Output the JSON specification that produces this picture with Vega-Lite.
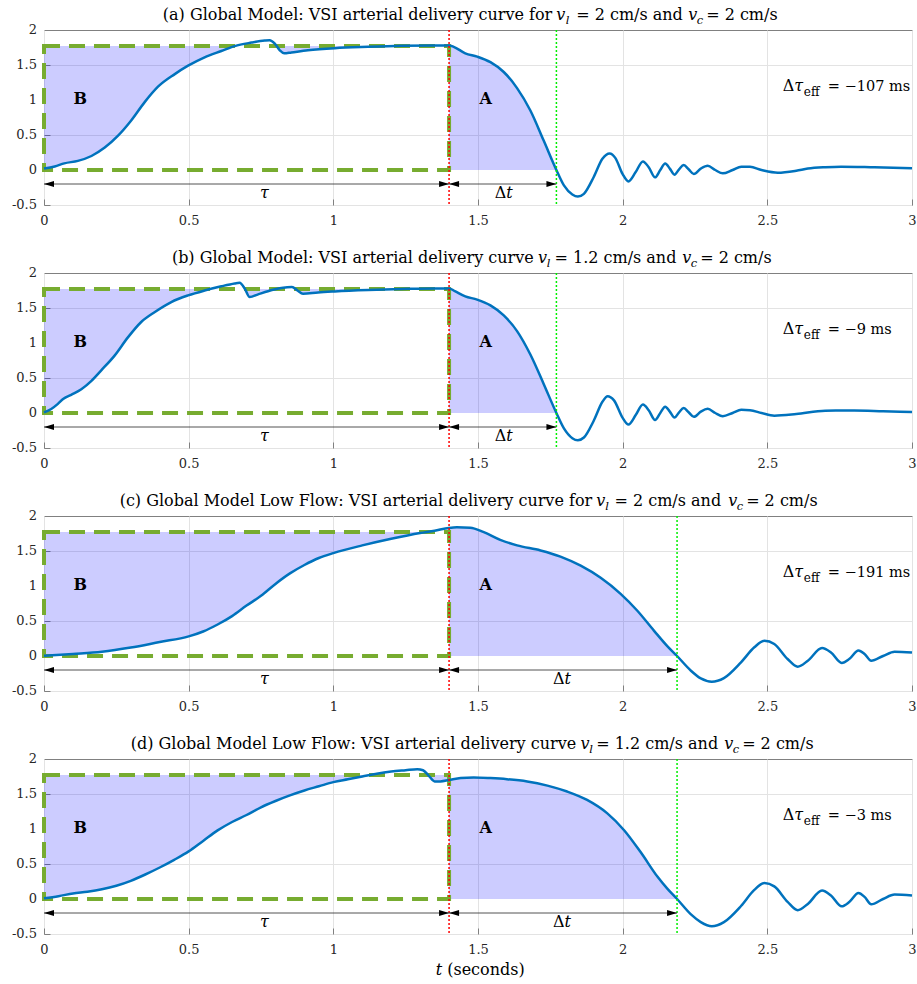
{
"$schema": "https://vega.github.io/schema/vega-lite/v6.json",
"background": "white",
"padding": {"left": 11, "top": 6, "right": 0, "bottom": 0},
"config": {
  "view": {"stroke": "#808080", "strokeWidth": 1},
  "axis": {"labelFont": "DejaVu Serif", "labelFontSize": 13, "labelColor": "#262626", "gridColor": "#e3e3e3", "gridWidth": 1, "domain": false, "tickColor": "#808080", "tickSize": -6, "labelPadding": 15, "labelOverlap": false, "labelFlush": false}
},
"data": {"values": [
{"p":"a","k":"c","t":0,"v":0.02,"b":0.02},
{"p":"a","k":"c","t":0.037,"v":0.05,"b":0.05},
{"p":"a","k":"c","t":0.07,"v":0.095,"b":0.095},
{"p":"a","k":"c","t":0.117,"v":0.13,"b":0.13},
{"p":"a","k":"c","t":0.164,"v":0.2,"b":0.2},
{"p":"a","k":"c","t":0.21,"v":0.32,"b":0.32},
{"p":"a","k":"c","t":0.256,"v":0.49,"b":0.49},
{"p":"a","k":"c","t":0.3,"v":0.7,"b":0.7},
{"p":"a","k":"c","t":0.348,"v":0.97,"b":0.97},
{"p":"a","k":"c","t":0.394,"v":1.19,"b":1.19},
{"p":"a","k":"c","t":0.452,"v":1.37,"b":1.37},
{"p":"a","k":"c","t":0.498,"v":1.49,"b":1.49},
{"p":"a","k":"c","t":0.555,"v":1.61,"b":1.61},
{"p":"a","k":"c","t":0.613,"v":1.7,"b":1.7},
{"p":"a","k":"c","t":0.659,"v":1.77,"b":1.77},
{"p":"a","k":"c","t":0.717,"v":1.82,"b":1.77},
{"p":"a","k":"c","t":0.763,"v":1.85,"b":1.77},
{"p":"a","k":"c","t":0.78,"v":1.855,"b":1.77},
{"p":"a","k":"c","t":0.797,"v":1.81,"b":1.77},
{"p":"a","k":"c","t":0.815,"v":1.71,"b":1.71},
{"p":"a","k":"c","t":0.83,"v":1.667,"b":1.667},
{"p":"a","k":"c","t":0.855,"v":1.68,"b":1.68},
{"p":"a","k":"c","t":0.912,"v":1.71,"b":1.71},
{"p":"a","k":"c","t":1.005,"v":1.74,"b":1.74},
{"p":"a","k":"c","t":1.12,"v":1.76,"b":1.76},
{"p":"a","k":"c","t":1.235,"v":1.775,"b":1.77},
{"p":"a","k":"c","t":1.35,"v":1.78,"b":1.77},
{"p":"a","k":"c","t":1.4,"v":1.78,"b":1.77,"a":1.78},
{"p":"a","k":"c","t":1.416,"v":1.76,"a":1.76},
{"p":"a","k":"c","t":1.456,"v":1.667,"a":1.667},
{"p":"a","k":"c","t":1.497,"v":1.62,"a":1.62},
{"p":"a","k":"c","t":1.543,"v":1.54,"a":1.54},
{"p":"a","k":"c","t":1.589,"v":1.4,"a":1.4},
{"p":"a","k":"c","t":1.635,"v":1.17,"a":1.17},
{"p":"a","k":"c","t":1.681,"v":0.85,"a":0.85},
{"p":"a","k":"c","t":1.727,"v":0.42,"a":0.42},
{"p":"a","k":"c","t":1.771,"v":0,"a":0},
{"p":"a","k":"c","t":1.797,"v":-0.22},
{"p":"a","k":"c","t":1.826,"v":-0.35},
{"p":"a","k":"c","t":1.845,"v":-0.38},
{"p":"a","k":"c","t":1.866,"v":-0.34},
{"p":"a","k":"c","t":1.9,"v":-0.1},
{"p":"a","k":"c","t":1.93,"v":0.16},
{"p":"a","k":"c","t":1.955,"v":0.237},
{"p":"a","k":"c","t":1.975,"v":0.17},
{"p":"a","k":"c","t":2.0,"v":-0.06},
{"p":"a","k":"c","t":2.02,"v":-0.163},
{"p":"a","k":"c","t":2.045,"v":-0.03},
{"p":"a","k":"c","t":2.07,"v":0.123},
{"p":"a","k":"c","t":2.09,"v":0.04},
{"p":"a","k":"c","t":2.112,"v":-0.105},
{"p":"a","k":"c","t":2.13,"v":0.0},
{"p":"a","k":"c","t":2.147,"v":0.094},
{"p":"a","k":"c","t":2.163,"v":0.02},
{"p":"a","k":"c","t":2.179,"v":-0.067},
{"p":"a","k":"c","t":2.195,"v":0.01},
{"p":"a","k":"c","t":2.211,"v":0.071},
{"p":"a","k":"c","t":2.228,"v":0.01},
{"p":"a","k":"c","t":2.246,"v":-0.057},
{"p":"a","k":"c","t":2.27,"v":0.02},
{"p":"a","k":"c","t":2.294,"v":0.061},
{"p":"a","k":"c","t":2.32,"v":0.0},
{"p":"a","k":"c","t":2.346,"v":-0.048},
{"p":"a","k":"c","t":2.38,"v":0.0},
{"p":"a","k":"c","t":2.41,"v":0.047},
{"p":"a","k":"c","t":2.44,"v":0.045},
{"p":"a","k":"c","t":2.48,"v":0.0},
{"p":"a","k":"c","t":2.536,"v":-0.038},
{"p":"a","k":"c","t":2.6,"v":-0.01},
{"p":"a","k":"c","t":2.64,"v":0.02},
{"p":"a","k":"c","t":2.7,"v":0.04},
{"p":"a","k":"c","t":2.755,"v":0.048},
{"p":"a","k":"c","t":2.87,"v":0.038},
{"p":"a","k":"c","t":3.0,"v":0.024},

{"p":"b","k":"c","t":0,"v":0.01,"b":0.01},
{"p":"b","k":"c","t":0.025,"v":0.057,"b":0.057},
{"p":"b","k":"c","t":0.048,"v":0.13,"b":0.13},
{"p":"b","k":"c","t":0.066,"v":0.2,"b":0.2},
{"p":"b","k":"c","t":0.094,"v":0.26,"b":0.26},
{"p":"b","k":"c","t":0.129,"v":0.34,"b":0.34},
{"p":"b","k":"c","t":0.164,"v":0.46,"b":0.46},
{"p":"b","k":"c","t":0.198,"v":0.61,"b":0.61},
{"p":"b","k":"c","t":0.244,"v":0.82,"b":0.82},
{"p":"b","k":"c","t":0.29,"v":1.08,"b":1.08},
{"p":"b","k":"c","t":0.336,"v":1.3,"b":1.3},
{"p":"b","k":"c","t":0.382,"v":1.44,"b":1.44},
{"p":"b","k":"c","t":0.44,"v":1.585,"b":1.585},
{"p":"b","k":"c","t":0.498,"v":1.68,"b":1.68},
{"p":"b","k":"c","t":0.555,"v":1.75,"b":1.75},
{"p":"b","k":"c","t":0.613,"v":1.81,"b":1.77},
{"p":"b","k":"c","t":0.659,"v":1.85,"b":1.77},
{"p":"b","k":"c","t":0.676,"v":1.86,"b":1.77},
{"p":"b","k":"c","t":0.694,"v":1.776,"b":1.77},
{"p":"b","k":"c","t":0.711,"v":1.656,"b":1.656},
{"p":"b","k":"c","t":0.74,"v":1.695,"b":1.695},
{"p":"b","k":"c","t":0.774,"v":1.74,"b":1.74},
{"p":"b","k":"c","t":0.82,"v":1.785,"b":1.77},
{"p":"b","k":"c","t":0.857,"v":1.8,"b":1.77},
{"p":"b","k":"c","t":0.876,"v":1.75,"b":1.75},
{"p":"b","k":"c","t":0.895,"v":1.704,"b":1.704},
{"p":"b","k":"c","t":0.947,"v":1.723,"b":1.723},
{"p":"b","k":"c","t":1.005,"v":1.737,"b":1.737},
{"p":"b","k":"c","t":1.12,"v":1.757,"b":1.757},
{"p":"b","k":"c","t":1.235,"v":1.771,"b":1.77},
{"p":"b","k":"c","t":1.35,"v":1.78,"b":1.77},
{"p":"b","k":"c","t":1.4,"v":1.78,"b":1.77,"a":1.78},
{"p":"b","k":"c","t":1.42,"v":1.74,"a":1.74},
{"p":"b","k":"c","t":1.456,"v":1.666,"a":1.666},
{"p":"b","k":"c","t":1.497,"v":1.62,"a":1.62},
{"p":"b","k":"c","t":1.543,"v":1.537,"a":1.537},
{"p":"b","k":"c","t":1.589,"v":1.394,"a":1.394},
{"p":"b","k":"c","t":1.635,"v":1.17,"a":1.17},
{"p":"b","k":"c","t":1.681,"v":0.835,"a":0.835},
{"p":"b","k":"c","t":1.727,"v":0.415,"a":0.415},
{"p":"b","k":"c","t":1.771,"v":0,"a":0},
{"p":"b","k":"c","t":1.797,"v":-0.22},
{"p":"b","k":"c","t":1.826,"v":-0.36},
{"p":"b","k":"c","t":1.845,"v":-0.39},
{"p":"b","k":"c","t":1.866,"v":-0.35},
{"p":"b","k":"c","t":1.9,"v":-0.11},
{"p":"b","k":"c","t":1.93,"v":0.16},
{"p":"b","k":"c","t":1.948,"v":0.24},
{"p":"b","k":"c","t":1.97,"v":0.18},
{"p":"b","k":"c","t":2.0,"v":-0.07},
{"p":"b","k":"c","t":2.02,"v":-0.165},
{"p":"b","k":"c","t":2.045,"v":-0.03},
{"p":"b","k":"c","t":2.07,"v":0.12},
{"p":"b","k":"c","t":2.09,"v":0.04},
{"p":"b","k":"c","t":2.112,"v":-0.1},
{"p":"b","k":"c","t":2.13,"v":0.0},
{"p":"b","k":"c","t":2.147,"v":0.09},
{"p":"b","k":"c","t":2.163,"v":0.02},
{"p":"b","k":"c","t":2.179,"v":-0.065},
{"p":"b","k":"c","t":2.195,"v":0.01},
{"p":"b","k":"c","t":2.211,"v":0.07},
{"p":"b","k":"c","t":2.228,"v":0.01},
{"p":"b","k":"c","t":2.246,"v":-0.055},
{"p":"b","k":"c","t":2.27,"v":0.02},
{"p":"b","k":"c","t":2.294,"v":0.06},
{"p":"b","k":"c","t":2.32,"v":0.0},
{"p":"b","k":"c","t":2.346,"v":-0.045},
{"p":"b","k":"c","t":2.38,"v":0.0},
{"p":"b","k":"c","t":2.41,"v":0.045},
{"p":"b","k":"c","t":2.44,"v":0.04},
{"p":"b","k":"c","t":2.48,"v":0.0},
{"p":"b","k":"c","t":2.524,"v":-0.038},
{"p":"b","k":"c","t":2.6,"v":-0.015},
{"p":"b","k":"c","t":2.7,"v":0.033},
{"p":"b","k":"c","t":2.8,"v":0.035},
{"p":"b","k":"c","t":2.9,"v":0.025},
{"p":"b","k":"c","t":3.0,"v":0.014},

{"p":"c","k":"c","t":0,"v":0.005,"b":0.005},
{"p":"c","k":"c","t":0.1,"v":0.03,"b":0.03},
{"p":"c","k":"c","t":0.2,"v":0.06,"b":0.06},
{"p":"c","k":"c","t":0.3,"v":0.12,"b":0.12},
{"p":"c","k":"c","t":0.4,"v":0.2,"b":0.2},
{"p":"c","k":"c","t":0.5,"v":0.28,"b":0.28},
{"p":"c","k":"c","t":0.55,"v":0.35,"b":0.35},
{"p":"c","k":"c","t":0.6,"v":0.45,"b":0.45},
{"p":"c","k":"c","t":0.65,"v":0.57,"b":0.57},
{"p":"c","k":"c","t":0.7,"v":0.72,"b":0.72},
{"p":"c","k":"c","t":0.75,"v":0.86,"b":0.86},
{"p":"c","k":"c","t":0.8,"v":1.03,"b":1.03},
{"p":"c","k":"c","t":0.85,"v":1.18,"b":1.18},
{"p":"c","k":"c","t":0.9,"v":1.3,"b":1.3},
{"p":"c","k":"c","t":0.95,"v":1.4,"b":1.4},
{"p":"c","k":"c","t":1.0,"v":1.47,"b":1.47},
{"p":"c","k":"c","t":1.1,"v":1.58,"b":1.58},
{"p":"c","k":"c","t":1.2,"v":1.675,"b":1.675},
{"p":"c","k":"c","t":1.3,"v":1.757,"b":1.757},
{"p":"c","k":"c","t":1.35,"v":1.79,"b":1.77},
{"p":"c","k":"c","t":1.4,"v":1.83,"b":1.77,"a":1.83},
{"p":"c","k":"c","t":1.427,"v":1.838,"a":1.838},
{"p":"c","k":"c","t":1.473,"v":1.833,"a":1.833},
{"p":"c","k":"c","t":1.52,"v":1.77,"a":1.77},
{"p":"c","k":"c","t":1.577,"v":1.66,"a":1.66},
{"p":"c","k":"c","t":1.635,"v":1.58,"a":1.58},
{"p":"c","k":"c","t":1.716,"v":1.508,"a":1.508},
{"p":"c","k":"c","t":1.785,"v":1.42,"a":1.42},
{"p":"c","k":"c","t":1.855,"v":1.29,"a":1.29},
{"p":"c","k":"c","t":1.924,"v":1.117,"a":1.117},
{"p":"c","k":"c","t":1.993,"v":0.888,"a":0.888},
{"p":"c","k":"c","t":2.05,"v":0.65,"a":0.65},
{"p":"c","k":"c","t":2.108,"v":0.363,"a":0.363},
{"p":"c","k":"c","t":2.155,"v":0.138,"a":0.138},
{"p":"c","k":"c","t":2.188,"v":0,"a":0},
{"p":"c","k":"c","t":2.236,"v":-0.21},
{"p":"c","k":"c","t":2.27,"v":-0.32},
{"p":"c","k":"c","t":2.308,"v":-0.367},
{"p":"c","k":"c","t":2.35,"v":-0.315},
{"p":"c","k":"c","t":2.409,"v":-0.09},
{"p":"c","k":"c","t":2.455,"v":0.124},
{"p":"c","k":"c","t":2.49,"v":0.218},
{"p":"c","k":"c","t":2.524,"v":0.172},
{"p":"c","k":"c","t":2.57,"v":-0.043},
{"p":"c","k":"c","t":2.605,"v":-0.153},
{"p":"c","k":"c","t":2.64,"v":-0.067},
{"p":"c","k":"c","t":2.689,"v":0.114},
{"p":"c","k":"c","t":2.72,"v":0.05},
{"p":"c","k":"c","t":2.757,"v":-0.1},
{"p":"c","k":"c","t":2.784,"v":-0.04},
{"p":"c","k":"c","t":2.815,"v":0.08},
{"p":"c","k":"c","t":2.836,"v":0.03},
{"p":"c","k":"c","t":2.859,"v":-0.067},
{"p":"c","k":"c","t":2.9,"v":0.0},
{"p":"c","k":"c","t":2.94,"v":0.061},
{"p":"c","k":"c","t":3.0,"v":0.05},

{"p":"d","k":"c","t":0,"v":0.01,"b":0.01},
{"p":"d","k":"c","t":0.05,"v":0.04,"b":0.04},
{"p":"d","k":"c","t":0.1,"v":0.08,"b":0.08},
{"p":"d","k":"c","t":0.15,"v":0.105,"b":0.105},
{"p":"d","k":"c","t":0.2,"v":0.14,"b":0.14},
{"p":"d","k":"c","t":0.25,"v":0.19,"b":0.19},
{"p":"d","k":"c","t":0.3,"v":0.26,"b":0.26},
{"p":"d","k":"c","t":0.35,"v":0.35,"b":0.35},
{"p":"d","k":"c","t":0.4,"v":0.45,"b":0.45},
{"p":"d","k":"c","t":0.45,"v":0.56,"b":0.56},
{"p":"d","k":"c","t":0.5,"v":0.68,"b":0.68},
{"p":"d","k":"c","t":0.55,"v":0.83,"b":0.83},
{"p":"d","k":"c","t":0.6,"v":0.98,"b":0.98},
{"p":"d","k":"c","t":0.65,"v":1.1,"b":1.1},
{"p":"d","k":"c","t":0.7,"v":1.2,"b":1.2},
{"p":"d","k":"c","t":0.75,"v":1.31,"b":1.31},
{"p":"d","k":"c","t":0.8,"v":1.4,"b":1.4},
{"p":"d","k":"c","t":0.85,"v":1.48,"b":1.48},
{"p":"d","k":"c","t":0.9,"v":1.55,"b":1.55},
{"p":"d","k":"c","t":0.95,"v":1.61,"b":1.61},
{"p":"d","k":"c","t":1.0,"v":1.67,"b":1.67},
{"p":"d","k":"c","t":1.05,"v":1.71,"b":1.71},
{"p":"d","k":"c","t":1.1,"v":1.75,"b":1.75},
{"p":"d","k":"c","t":1.15,"v":1.79,"b":1.77},
{"p":"d","k":"c","t":1.2,"v":1.82,"b":1.77},
{"p":"d","k":"c","t":1.25,"v":1.84,"b":1.77},
{"p":"d","k":"c","t":1.29,"v":1.855,"b":1.77},
{"p":"d","k":"c","t":1.31,"v":1.84,"b":1.77},
{"p":"d","k":"c","t":1.33,"v":1.76,"b":1.76},
{"p":"d","k":"c","t":1.35,"v":1.68,"b":1.68},
{"p":"d","k":"c","t":1.37,"v":1.68,"b":1.68},
{"p":"d","k":"c","t":1.4,"v":1.7,"b":1.7,"a":1.7},
{"p":"d","k":"c","t":1.44,"v":1.727,"a":1.727},
{"p":"d","k":"c","t":1.485,"v":1.736,"a":1.736},
{"p":"d","k":"c","t":1.543,"v":1.727,"a":1.727},
{"p":"d","k":"c","t":1.6,"v":1.712,"a":1.712},
{"p":"d","k":"c","t":1.67,"v":1.68,"a":1.68},
{"p":"d","k":"c","t":1.74,"v":1.62,"a":1.62},
{"p":"d","k":"c","t":1.808,"v":1.535,"a":1.535},
{"p":"d","k":"c","t":1.877,"v":1.415,"a":1.415},
{"p":"d","k":"c","t":1.947,"v":1.223,"a":1.223},
{"p":"d","k":"c","t":2.005,"v":0.983,"a":0.983},
{"p":"d","k":"c","t":2.062,"v":0.67,"a":0.67},
{"p":"d","k":"c","t":2.12,"v":0.32,"a":0.32},
{"p":"d","k":"c","t":2.155,"v":0.144,"a":0.144},
{"p":"d","k":"c","t":2.188,"v":0,"a":0},
{"p":"d","k":"c","t":2.236,"v":-0.22},
{"p":"d","k":"c","t":2.27,"v":-0.33},
{"p":"d","k":"c","t":2.308,"v":-0.39},
{"p":"d","k":"c","t":2.35,"v":-0.33},
{"p":"d","k":"c","t":2.409,"v":-0.1},
{"p":"d","k":"c","t":2.455,"v":0.13},
{"p":"d","k":"c","t":2.49,"v":0.228},
{"p":"d","k":"c","t":2.524,"v":0.18},
{"p":"d","k":"c","t":2.57,"v":-0.04},
{"p":"d","k":"c","t":2.605,"v":-0.16},
{"p":"d","k":"c","t":2.64,"v":-0.07},
{"p":"d","k":"c","t":2.689,"v":0.12},
{"p":"d","k":"c","t":2.72,"v":0.05},
{"p":"d","k":"c","t":2.757,"v":-0.105},
{"p":"d","k":"c","t":2.784,"v":-0.04},
{"p":"d","k":"c","t":2.815,"v":0.085},
{"p":"d","k":"c","t":2.836,"v":0.03},
{"p":"d","k":"c","t":2.859,"v":-0.076},
{"p":"d","k":"c","t":2.9,"v":0.0},
{"p":"d","k":"c","t":2.94,"v":0.063},
{"p":"d","k":"c","t":3.0,"v":0.05},

{"p":"a","k":"box","t":0,"t2":1.4,"v":0,"v2":1.77},
{"p":"b","k":"box","t":0,"t2":1.4,"v":0,"v2":1.77},
{"p":"c","k":"box","t":0,"t2":1.4,"v":0,"v2":1.77},
{"p":"d","k":"box","t":0,"t2":1.4,"v":0,"v2":1.77},
{"p":"a","k":"vr","t":1.4},{"p":"a","k":"vg","t":1.771},
{"p":"b","k":"vr","t":1.4},{"p":"b","k":"vg","t":1.771},
{"p":"c","k":"vr","t":1.4},{"p":"c","k":"vg","t":2.188},
{"p":"d","k":"vr","t":1.4},{"p":"d","k":"vg","t":2.188},
{"p":"a","k":"ar","t":0,"t2":1.4,"v":-0.2},{"p":"a","k":"ar","t":1.4,"t2":1.771,"v":-0.2},
{"p":"b","k":"ar","t":0,"t2":1.4,"v":-0.2},{"p":"b","k":"ar","t":1.4,"t2":1.771,"v":-0.2},
{"p":"c","k":"ar","t":0,"t2":1.4,"v":-0.2},{"p":"c","k":"ar","t":1.4,"t2":2.188,"v":-0.2},
{"p":"d","k":"ar","t":0,"t2":1.4,"v":-0.2},{"p":"d","k":"ar","t":1.4,"t2":2.188,"v":-0.2},

{"p":"a","k":"yl","t":0,"v":-0.5,"s":"-0.5"},{"p":"a","k":"yl","t":0,"v":0,"s":"0"},{"p":"a","k":"yl","t":0,"v":0.5,"s":"0.5"},{"p":"a","k":"yl","t":0,"v":1,"s":"1"},{"p":"a","k":"yl","t":0,"v":1.5,"s":"1.5"},{"p":"a","k":"yl","t":0,"v":2,"s":"2"},
{"p":"b","k":"yl","t":0,"v":-0.5,"s":"-0.5"},{"p":"b","k":"yl","t":0,"v":0,"s":"0"},{"p":"b","k":"yl","t":0,"v":0.5,"s":"0.5"},{"p":"b","k":"yl","t":0,"v":1,"s":"1"},{"p":"b","k":"yl","t":0,"v":1.5,"s":"1.5"},{"p":"b","k":"yl","t":0,"v":2,"s":"2"},
{"p":"c","k":"yl","t":0,"v":-0.5,"s":"-0.5"},{"p":"c","k":"yl","t":0,"v":0,"s":"0"},{"p":"c","k":"yl","t":0,"v":0.5,"s":"0.5"},{"p":"c","k":"yl","t":0,"v":1,"s":"1"},{"p":"c","k":"yl","t":0,"v":1.5,"s":"1.5"},{"p":"c","k":"yl","t":0,"v":2,"s":"2"},
{"p":"d","k":"yl","t":0,"v":-0.5,"s":"-0.5"},{"p":"d","k":"yl","t":0,"v":0,"s":"0"},{"p":"d","k":"yl","t":0,"v":0.5,"s":"0.5"},{"p":"d","k":"yl","t":0,"v":1,"s":"1"},{"p":"d","k":"yl","t":0,"v":1.5,"s":"1.5"},{"p":"d","k":"yl","t":0,"v":2,"s":"2"},

{"p":"a","k":"tx","r":"RR","t":1.7564,"v":2.14,"s":"(a) Global Model: VSI arterial delivery curve for"},
{"p":"a","k":"tx","r":"I","t":1.7702,"v":2.14,"s":"v"},
{"p":"a","k":"tx","r":"S","t":1.803,"v":2.14,"s":"l"},
{"p":"a","k":"tx","r":"R","t":1.8393,"v":2.14,"s":"= 2 cm/s and"},
{"p":"a","k":"tx","r":"I","t":2.2263,"v":2.14,"s":"v"},
{"p":"a","k":"tx","r":"S","t":2.2557,"v":2.14,"s":"c"},
{"p":"a","k":"tx","r":"R","t":2.2885,"v":2.14,"s":"= 2 cm/s"},
{"p":"a","k":"tx","r":"B","t":0.125,"v":0.94,"s":"B"},
{"p":"a","k":"tx","r":"B","t":1.527,"v":0.94,"s":"A"},
{"p":"a","k":"tx","r":"R","t":2.5537,"v":1.13,"s":"Δ"},
{"p":"a","k":"tx","r":"I","t":2.593,"v":1.13,"s":"τ"},
{"p":"a","k":"tx","r":"SR","t":2.6261,"v":1.13,"s":"eff"},
{"p":"a","k":"tx","r":"E","t":2.7091,"v":1.13,"s":"= −107 ms"},
{"p":"a","k":"tx","r":"IC","t":0.762,"v":-0.4,"s":"τ"},
{"p":"a","k":"tx","r":"RR","t":1.5975,"v":-0.4,"s":"Δ"},
{"p":"a","k":"tx","r":"I","t":1.5975,"v":-0.4,"s":"t"},

{"p":"b","k":"tx","r":"RR","t":1.6925,"v":2.14,"s":"(b) Global Model: VSI arterial delivery curve"},
{"p":"b","k":"tx","r":"I","t":1.707,"v":2.14,"s":"v"},
{"p":"b","k":"tx","r":"S","t":1.7374,"v":2.14,"s":"l"},
{"p":"b","k":"tx","r":"R","t":1.7643,"v":2.14,"s":"= 1.2 cm/s and"},
{"p":"b","k":"tx","r":"I","t":2.2056,"v":2.14,"s":"v"},
{"p":"b","k":"tx","r":"S","t":2.235,"v":2.14,"s":"c"},
{"p":"b","k":"tx","r":"R","t":2.2678,"v":2.14,"s":"= 2 cm/s"},
{"p":"b","k":"tx","r":"B","t":0.125,"v":0.94,"s":"B"},
{"p":"b","k":"tx","r":"B","t":1.527,"v":0.94,"s":"A"},
{"p":"b","k":"tx","r":"R","t":2.5537,"v":1.13,"s":"Δ"},
{"p":"b","k":"tx","r":"I","t":2.593,"v":1.13,"s":"τ"},
{"p":"b","k":"tx","r":"SR","t":2.6261,"v":1.13,"s":"eff"},
{"p":"b","k":"tx","r":"E","t":2.7091,"v":1.13,"s":"= −9 ms"},
{"p":"b","k":"tx","r":"IC","t":0.762,"v":-0.4,"s":"τ"},
{"p":"b","k":"tx","r":"RR","t":1.5975,"v":-0.4,"s":"Δ"},
{"p":"b","k":"tx","r":"I","t":1.5975,"v":-0.4,"s":"t"},

{"p":"c","k":"tx","r":"RR","t":1.8946,"v":2.14,"s":"(c) Global Model Low Flow: VSI arterial delivery curve for"},
{"p":"c","k":"tx","r":"I","t":1.9084,"v":2.14,"s":"v"},
{"p":"c","k":"tx","r":"S","t":1.9395,"v":2.14,"s":"l"},
{"p":"c","k":"tx","r":"R","t":1.9717,"v":2.14,"s":"= 2 cm/s and"},
{"p":"c","k":"tx","r":"I","t":2.3645,"v":2.14,"s":"v"},
{"p":"c","k":"tx","r":"S","t":2.3939,"v":2.14,"s":"c"},
{"p":"c","k":"tx","r":"R","t":2.4267,"v":2.14,"s":"= 2 cm/s"},
{"p":"c","k":"tx","r":"B","t":0.125,"v":0.94,"s":"B"},
{"p":"c","k":"tx","r":"B","t":1.527,"v":0.94,"s":"A"},
{"p":"c","k":"tx","r":"R","t":2.5537,"v":1.13,"s":"Δ"},
{"p":"c","k":"tx","r":"I","t":2.593,"v":1.13,"s":"τ"},
{"p":"c","k":"tx","r":"SR","t":2.6261,"v":1.13,"s":"eff"},
{"p":"c","k":"tx","r":"E","t":2.7091,"v":1.13,"s":"= −191 ms"},
{"p":"c","k":"tx","r":"IC","t":0.762,"v":-0.4,"s":"τ"},
{"p":"c","k":"tx","r":"RR","t":1.799,"v":-0.4,"s":"Δ"},
{"p":"c","k":"tx","r":"I","t":1.799,"v":-0.4,"s":"t"},

{"p":"d","k":"tx","r":"RR","t":1.8393,"v":2.14,"s":"(d) Global Model Low Flow: VSI arterial delivery curve"},
{"p":"d","k":"tx","r":"I","t":1.8542,"v":2.14,"s":"v"},
{"p":"d","k":"tx","r":"S","t":1.8842,"v":2.14,"s":"l"},
{"p":"d","k":"tx","r":"R","t":1.9085,"v":2.14,"s":"= 1.2 cm/s and"},
{"p":"d","k":"tx","r":"I","t":2.3507,"v":2.14,"s":"v"},
{"p":"d","k":"tx","r":"S","t":2.3801,"v":2.14,"s":"c"},
{"p":"d","k":"tx","r":"R","t":2.4129,"v":2.14,"s":"= 2 cm/s"},
{"p":"d","k":"tx","r":"B","t":0.125,"v":0.94,"s":"B"},
{"p":"d","k":"tx","r":"B","t":1.527,"v":0.94,"s":"A"},
{"p":"d","k":"tx","r":"R","t":2.5537,"v":1.13,"s":"Δ"},
{"p":"d","k":"tx","r":"I","t":2.593,"v":1.13,"s":"τ"},
{"p":"d","k":"tx","r":"SR","t":2.6261,"v":1.13,"s":"eff"},
{"p":"d","k":"tx","r":"E","t":2.7091,"v":1.13,"s":"= −3 ms"},
{"p":"d","k":"tx","r":"IC","t":0.762,"v":-0.4,"s":"τ"},
{"p":"d","k":"tx","r":"RR","t":1.799,"v":-0.4,"s":"Δ"},
{"p":"d","k":"tx","r":"I","t":1.799,"v":-0.4,"s":"t"},
{"p":"d","k":"tx","r":"IR","t":1.3763,"v":-1.09,"s":"t"},
{"p":"d","k":"tx","r":"R","t":1.3935,"v":-1.09,"s":"(seconds)"}
]},
"spacing": 68,
"bounds": "flush",
"vconcat": [
 {"width": 868, "height": 175, "transform": [{"filter": "datum.p == 'a'"}], "layer": [
    {"transform": [{"filter": "datum.k == 'c'"}], "mark": {"type": "area", "color": "#0000ff", "opacity": 0.2, "interpolate": "monotone"},
     "encoding": {"x": {"field": "t", "type": "quantitative", "scale": {"domain": [0, 3], "nice": false, "zero": false}, "axis": {"values": [0, 0.5, 1, 1.5, 2, 2.5, 3], "labelExpr": "'' + datum.value", "title": null, "grid": true}},
                  "y": {"field": "b", "type": "quantitative", "scale": {"domain": [-0.5, 2], "nice": false, "zero": false}, "axis": {"values": [-0.5, 0, 0.5, 1, 1.5, 2], "labels": false, "title": null, "grid": true}},
                  "y2": {"datum": 1.77}}},
    {"transform": [{"filter": "datum.k == 'c'"}], "mark": {"type": "area", "color": "#0000ff", "opacity": 0.2, "interpolate": "monotone"},
     "encoding": {"x": {"field": "t", "type": "quantitative"}, "y": {"field": "a", "type": "quantitative"}, "y2": {"datum": 0}}},
    {"transform": [{"filter": "datum.k == 'box'"}], "mark": {"type": "rect", "filled": false, "stroke": "#77AC30", "strokeWidth": 4, "strokeDash": [16, 9]},
     "encoding": {"x": {"field": "t", "type": "quantitative"}, "x2": {"field": "t2"}, "y": {"field": "v", "type": "quantitative"}, "y2": {"field": "v2"}}},
    {"transform": [{"filter": "datum.k == 'c'"}], "mark": {"type": "line", "color": "#0072BD", "strokeWidth": 2.5, "strokeJoin": "round", "interpolate": "monotone"},
     "encoding": {"x": {"field": "t", "type": "quantitative"}, "y": {"field": "v", "type": "quantitative"}}},
    {"transform": [{"filter": "datum.k == 'vr'"}], "mark": {"type": "rule", "color": "#ff0000", "strokeWidth": 1.5, "strokeDash": [2, 2]}, "encoding": {"x": {"field": "t", "type": "quantitative"}}},
    {"transform": [{"filter": "datum.k == 'vg'"}], "mark": {"type": "rule", "color": "#00ee00", "strokeWidth": 1.5, "strokeDash": [2, 2]}, "encoding": {"x": {"field": "t", "type": "quantitative"}}},
    {"transform": [{"filter": "datum.k == 'ar'"}], "mark": {"type": "rule", "color": "#262626", "strokeWidth": 0.8},
     "encoding": {"x": {"field": "t", "type": "quantitative"}, "x2": {"field": "t2"}, "y": {"field": "v", "type": "quantitative"}}},
    {"transform": [{"filter": "datum.k == 'ar'"}], "mark": {"type": "point", "shape": "M0,0L1,-0.3L1,0.3Z", "size": 400, "filled": true, "color": "#000000", "opacity": 1, "strokeWidth": 0},
     "encoding": {"x": {"field": "t", "type": "quantitative"}, "y": {"field": "v", "type": "quantitative"}}},
    {"transform": [{"filter": "datum.k == 'ar'"}], "mark": {"type": "point", "shape": "M0,0L-1,-0.3L-1,0.3Z", "size": 400, "filled": true, "color": "#000000", "opacity": 1, "strokeWidth": 0},
     "encoding": {"x": {"field": "t2", "type": "quantitative"}, "y": {"field": "v", "type": "quantitative"}}},
    {"transform": [{"filter": "datum.k == 'yl'"}], "mark": {"type": "text", "font": "DejaVu Serif", "fontSize": 13, "align": "right", "baseline": "middle", "dx": -7, "color": "#262626"},
     "encoding": {"x": {"field": "t", "type": "quantitative"}, "y": {"field": "v", "type": "quantitative"}, "text": {"field": "s"}}},
    {"transform": [{"filter": "datum.k == 'tx' && datum.r == 'R'"}], "mark": {"type": "text", "font": "DejaVu Serif", "fontSize": 16, "align": "left", "baseline": "alphabetic", "color": "#000000"},
     "encoding": {"x": {"field": "t", "type": "quantitative"}, "y": {"field": "v", "type": "quantitative"}, "text": {"field": "s"}}},
    {"transform": [{"filter": "datum.k == 'tx' && datum.r == 'E'"}], "mark": {"type": "text", "font": "DejaVu Serif", "fontSize": 14.5, "align": "left", "baseline": "alphabetic", "color": "#000000"},
     "encoding": {"x": {"field": "t", "type": "quantitative"}, "y": {"field": "v", "type": "quantitative"}, "text": {"field": "s"}}},
    {"transform": [{"filter": "datum.k == 'tx' && datum.r == 'RR'"}], "mark": {"type": "text", "font": "DejaVu Serif", "fontSize": 16, "align": "right", "baseline": "alphabetic", "color": "#000000"},
     "encoding": {"x": {"field": "t", "type": "quantitative"}, "y": {"field": "v", "type": "quantitative"}, "text": {"field": "s"}}},
    {"transform": [{"filter": "datum.k == 'tx' && datum.r == 'I'"}], "mark": {"type": "text", "font": "DejaVu Serif", "fontSize": 16, "fontStyle": "italic", "align": "left", "baseline": "alphabetic", "color": "#000000"},
     "encoding": {"x": {"field": "t", "type": "quantitative"}, "y": {"field": "v", "type": "quantitative"}, "text": {"field": "s"}}},
    {"transform": [{"filter": "datum.k == 'tx' && datum.r == 'IC'"}], "mark": {"type": "text", "font": "DejaVu Serif", "fontSize": 16, "fontStyle": "italic", "align": "center", "baseline": "alphabetic", "color": "#000000"},
     "encoding": {"x": {"field": "t", "type": "quantitative"}, "y": {"field": "v", "type": "quantitative"}, "text": {"field": "s"}}},
    {"transform": [{"filter": "datum.k == 'tx' && datum.r == 'S'"}], "mark": {"type": "text", "font": "DejaVu Serif", "fontSize": 11.5, "fontStyle": "italic", "align": "left", "baseline": "alphabetic", "dy": 3.5, "color": "#000000"},
     "encoding": {"x": {"field": "t", "type": "quantitative"}, "y": {"field": "v", "type": "quantitative"}, "text": {"field": "s"}}},
    {"transform": [{"filter": "datum.k == 'tx' && datum.r == 'SR'"}], "mark": {"type": "text", "font": "DejaVu Serif", "fontSize": 12, "align": "left", "baseline": "alphabetic", "dy": 5, "color": "#000000"},
     "encoding": {"x": {"field": "t", "type": "quantitative"}, "y": {"field": "v", "type": "quantitative"}, "text": {"field": "s"}}},
    {"transform": [{"filter": "datum.k == 'tx' && datum.r == 'B'"}], "mark": {"type": "text", "font": "DejaVu Serif", "fontSize": 16, "fontWeight": "bold", "align": "center", "baseline": "alphabetic", "color": "#000000"},
     "encoding": {"x": {"field": "t", "type": "quantitative"}, "y": {"field": "v", "type": "quantitative"}, "text": {"field": "s"}}}
 ]},
 {"width": 868, "height": 175, "transform": [{"filter": "datum.p == 'b'"}], "layer": [
    {"transform": [{"filter": "datum.k == 'c'"}], "mark": {"type": "area", "color": "#0000ff", "opacity": 0.2, "interpolate": "monotone"},
     "encoding": {"x": {"field": "t", "type": "quantitative", "scale": {"domain": [0, 3], "nice": false, "zero": false}, "axis": {"values": [0, 0.5, 1, 1.5, 2, 2.5, 3], "labelExpr": "'' + datum.value", "title": null, "grid": true}},
                  "y": {"field": "b", "type": "quantitative", "scale": {"domain": [-0.5, 2], "nice": false, "zero": false}, "axis": {"values": [-0.5, 0, 0.5, 1, 1.5, 2], "labels": false, "title": null, "grid": true}},
                  "y2": {"datum": 1.77}}},
    {"transform": [{"filter": "datum.k == 'c'"}], "mark": {"type": "area", "color": "#0000ff", "opacity": 0.2, "interpolate": "monotone"},
     "encoding": {"x": {"field": "t", "type": "quantitative"}, "y": {"field": "a", "type": "quantitative"}, "y2": {"datum": 0}}},
    {"transform": [{"filter": "datum.k == 'box'"}], "mark": {"type": "rect", "filled": false, "stroke": "#77AC30", "strokeWidth": 4, "strokeDash": [16, 9]},
     "encoding": {"x": {"field": "t", "type": "quantitative"}, "x2": {"field": "t2"}, "y": {"field": "v", "type": "quantitative"}, "y2": {"field": "v2"}}},
    {"transform": [{"filter": "datum.k == 'c'"}], "mark": {"type": "line", "color": "#0072BD", "strokeWidth": 2.5, "strokeJoin": "round", "interpolate": "monotone"},
     "encoding": {"x": {"field": "t", "type": "quantitative"}, "y": {"field": "v", "type": "quantitative"}}},
    {"transform": [{"filter": "datum.k == 'vr'"}], "mark": {"type": "rule", "color": "#ff0000", "strokeWidth": 1.5, "strokeDash": [2, 2]}, "encoding": {"x": {"field": "t", "type": "quantitative"}}},
    {"transform": [{"filter": "datum.k == 'vg'"}], "mark": {"type": "rule", "color": "#00ee00", "strokeWidth": 1.5, "strokeDash": [2, 2]}, "encoding": {"x": {"field": "t", "type": "quantitative"}}},
    {"transform": [{"filter": "datum.k == 'ar'"}], "mark": {"type": "rule", "color": "#262626", "strokeWidth": 0.8},
     "encoding": {"x": {"field": "t", "type": "quantitative"}, "x2": {"field": "t2"}, "y": {"field": "v", "type": "quantitative"}}},
    {"transform": [{"filter": "datum.k == 'ar'"}], "mark": {"type": "point", "shape": "M0,0L1,-0.3L1,0.3Z", "size": 400, "filled": true, "color": "#000000", "opacity": 1, "strokeWidth": 0},
     "encoding": {"x": {"field": "t", "type": "quantitative"}, "y": {"field": "v", "type": "quantitative"}}},
    {"transform": [{"filter": "datum.k == 'ar'"}], "mark": {"type": "point", "shape": "M0,0L-1,-0.3L-1,0.3Z", "size": 400, "filled": true, "color": "#000000", "opacity": 1, "strokeWidth": 0},
     "encoding": {"x": {"field": "t2", "type": "quantitative"}, "y": {"field": "v", "type": "quantitative"}}},
    {"transform": [{"filter": "datum.k == 'yl'"}], "mark": {"type": "text", "font": "DejaVu Serif", "fontSize": 13, "align": "right", "baseline": "middle", "dx": -7, "color": "#262626"},
     "encoding": {"x": {"field": "t", "type": "quantitative"}, "y": {"field": "v", "type": "quantitative"}, "text": {"field": "s"}}},
    {"transform": [{"filter": "datum.k == 'tx' && datum.r == 'R'"}], "mark": {"type": "text", "font": "DejaVu Serif", "fontSize": 16, "align": "left", "baseline": "alphabetic", "color": "#000000"},
     "encoding": {"x": {"field": "t", "type": "quantitative"}, "y": {"field": "v", "type": "quantitative"}, "text": {"field": "s"}}},
    {"transform": [{"filter": "datum.k == 'tx' && datum.r == 'E'"}], "mark": {"type": "text", "font": "DejaVu Serif", "fontSize": 14.5, "align": "left", "baseline": "alphabetic", "color": "#000000"},
     "encoding": {"x": {"field": "t", "type": "quantitative"}, "y": {"field": "v", "type": "quantitative"}, "text": {"field": "s"}}},
    {"transform": [{"filter": "datum.k == 'tx' && datum.r == 'RR'"}], "mark": {"type": "text", "font": "DejaVu Serif", "fontSize": 16, "align": "right", "baseline": "alphabetic", "color": "#000000"},
     "encoding": {"x": {"field": "t", "type": "quantitative"}, "y": {"field": "v", "type": "quantitative"}, "text": {"field": "s"}}},
    {"transform": [{"filter": "datum.k == 'tx' && datum.r == 'I'"}], "mark": {"type": "text", "font": "DejaVu Serif", "fontSize": 16, "fontStyle": "italic", "align": "left", "baseline": "alphabetic", "color": "#000000"},
     "encoding": {"x": {"field": "t", "type": "quantitative"}, "y": {"field": "v", "type": "quantitative"}, "text": {"field": "s"}}},
    {"transform": [{"filter": "datum.k == 'tx' && datum.r == 'IC'"}], "mark": {"type": "text", "font": "DejaVu Serif", "fontSize": 16, "fontStyle": "italic", "align": "center", "baseline": "alphabetic", "color": "#000000"},
     "encoding": {"x": {"field": "t", "type": "quantitative"}, "y": {"field": "v", "type": "quantitative"}, "text": {"field": "s"}}},
    {"transform": [{"filter": "datum.k == 'tx' && datum.r == 'S'"}], "mark": {"type": "text", "font": "DejaVu Serif", "fontSize": 11.5, "fontStyle": "italic", "align": "left", "baseline": "alphabetic", "dy": 3.5, "color": "#000000"},
     "encoding": {"x": {"field": "t", "type": "quantitative"}, "y": {"field": "v", "type": "quantitative"}, "text": {"field": "s"}}},
    {"transform": [{"filter": "datum.k == 'tx' && datum.r == 'SR'"}], "mark": {"type": "text", "font": "DejaVu Serif", "fontSize": 12, "align": "left", "baseline": "alphabetic", "dy": 5, "color": "#000000"},
     "encoding": {"x": {"field": "t", "type": "quantitative"}, "y": {"field": "v", "type": "quantitative"}, "text": {"field": "s"}}},
    {"transform": [{"filter": "datum.k == 'tx' && datum.r == 'B'"}], "mark": {"type": "text", "font": "DejaVu Serif", "fontSize": 16, "fontWeight": "bold", "align": "center", "baseline": "alphabetic", "color": "#000000"},
     "encoding": {"x": {"field": "t", "type": "quantitative"}, "y": {"field": "v", "type": "quantitative"}, "text": {"field": "s"}}}
 ]},
 {"width": 868, "height": 175, "transform": [{"filter": "datum.p == 'c'"}], "layer": [
    {"transform": [{"filter": "datum.k == 'c'"}], "mark": {"type": "area", "color": "#0000ff", "opacity": 0.2, "interpolate": "monotone"},
     "encoding": {"x": {"field": "t", "type": "quantitative", "scale": {"domain": [0, 3], "nice": false, "zero": false}, "axis": {"values": [0, 0.5, 1, 1.5, 2, 2.5, 3], "labelExpr": "'' + datum.value", "title": null, "grid": true}},
                  "y": {"field": "b", "type": "quantitative", "scale": {"domain": [-0.5, 2], "nice": false, "zero": false}, "axis": {"values": [-0.5, 0, 0.5, 1, 1.5, 2], "labels": false, "title": null, "grid": true}},
                  "y2": {"datum": 1.77}}},
    {"transform": [{"filter": "datum.k == 'c'"}], "mark": {"type": "area", "color": "#0000ff", "opacity": 0.2, "interpolate": "monotone"},
     "encoding": {"x": {"field": "t", "type": "quantitative"}, "y": {"field": "a", "type": "quantitative"}, "y2": {"datum": 0}}},
    {"transform": [{"filter": "datum.k == 'box'"}], "mark": {"type": "rect", "filled": false, "stroke": "#77AC30", "strokeWidth": 4, "strokeDash": [16, 9]},
     "encoding": {"x": {"field": "t", "type": "quantitative"}, "x2": {"field": "t2"}, "y": {"field": "v", "type": "quantitative"}, "y2": {"field": "v2"}}},
    {"transform": [{"filter": "datum.k == 'c'"}], "mark": {"type": "line", "color": "#0072BD", "strokeWidth": 2.5, "strokeJoin": "round", "interpolate": "monotone"},
     "encoding": {"x": {"field": "t", "type": "quantitative"}, "y": {"field": "v", "type": "quantitative"}}},
    {"transform": [{"filter": "datum.k == 'vr'"}], "mark": {"type": "rule", "color": "#ff0000", "strokeWidth": 1.5, "strokeDash": [2, 2]}, "encoding": {"x": {"field": "t", "type": "quantitative"}}},
    {"transform": [{"filter": "datum.k == 'vg'"}], "mark": {"type": "rule", "color": "#00ee00", "strokeWidth": 1.5, "strokeDash": [2, 2]}, "encoding": {"x": {"field": "t", "type": "quantitative"}}},
    {"transform": [{"filter": "datum.k == 'ar'"}], "mark": {"type": "rule", "color": "#262626", "strokeWidth": 0.8},
     "encoding": {"x": {"field": "t", "type": "quantitative"}, "x2": {"field": "t2"}, "y": {"field": "v", "type": "quantitative"}}},
    {"transform": [{"filter": "datum.k == 'ar'"}], "mark": {"type": "point", "shape": "M0,0L1,-0.3L1,0.3Z", "size": 400, "filled": true, "color": "#000000", "opacity": 1, "strokeWidth": 0},
     "encoding": {"x": {"field": "t", "type": "quantitative"}, "y": {"field": "v", "type": "quantitative"}}},
    {"transform": [{"filter": "datum.k == 'ar'"}], "mark": {"type": "point", "shape": "M0,0L-1,-0.3L-1,0.3Z", "size": 400, "filled": true, "color": "#000000", "opacity": 1, "strokeWidth": 0},
     "encoding": {"x": {"field": "t2", "type": "quantitative"}, "y": {"field": "v", "type": "quantitative"}}},
    {"transform": [{"filter": "datum.k == 'yl'"}], "mark": {"type": "text", "font": "DejaVu Serif", "fontSize": 13, "align": "right", "baseline": "middle", "dx": -7, "color": "#262626"},
     "encoding": {"x": {"field": "t", "type": "quantitative"}, "y": {"field": "v", "type": "quantitative"}, "text": {"field": "s"}}},
    {"transform": [{"filter": "datum.k == 'tx' && datum.r == 'R'"}], "mark": {"type": "text", "font": "DejaVu Serif", "fontSize": 16, "align": "left", "baseline": "alphabetic", "color": "#000000"},
     "encoding": {"x": {"field": "t", "type": "quantitative"}, "y": {"field": "v", "type": "quantitative"}, "text": {"field": "s"}}},
    {"transform": [{"filter": "datum.k == 'tx' && datum.r == 'E'"}], "mark": {"type": "text", "font": "DejaVu Serif", "fontSize": 14.5, "align": "left", "baseline": "alphabetic", "color": "#000000"},
     "encoding": {"x": {"field": "t", "type": "quantitative"}, "y": {"field": "v", "type": "quantitative"}, "text": {"field": "s"}}},
    {"transform": [{"filter": "datum.k == 'tx' && datum.r == 'RR'"}], "mark": {"type": "text", "font": "DejaVu Serif", "fontSize": 16, "align": "right", "baseline": "alphabetic", "color": "#000000"},
     "encoding": {"x": {"field": "t", "type": "quantitative"}, "y": {"field": "v", "type": "quantitative"}, "text": {"field": "s"}}},
    {"transform": [{"filter": "datum.k == 'tx' && datum.r == 'I'"}], "mark": {"type": "text", "font": "DejaVu Serif", "fontSize": 16, "fontStyle": "italic", "align": "left", "baseline": "alphabetic", "color": "#000000"},
     "encoding": {"x": {"field": "t", "type": "quantitative"}, "y": {"field": "v", "type": "quantitative"}, "text": {"field": "s"}}},
    {"transform": [{"filter": "datum.k == 'tx' && datum.r == 'IC'"}], "mark": {"type": "text", "font": "DejaVu Serif", "fontSize": 16, "fontStyle": "italic", "align": "center", "baseline": "alphabetic", "color": "#000000"},
     "encoding": {"x": {"field": "t", "type": "quantitative"}, "y": {"field": "v", "type": "quantitative"}, "text": {"field": "s"}}},
    {"transform": [{"filter": "datum.k == 'tx' && datum.r == 'S'"}], "mark": {"type": "text", "font": "DejaVu Serif", "fontSize": 11.5, "fontStyle": "italic", "align": "left", "baseline": "alphabetic", "dy": 3.5, "color": "#000000"},
     "encoding": {"x": {"field": "t", "type": "quantitative"}, "y": {"field": "v", "type": "quantitative"}, "text": {"field": "s"}}},
    {"transform": [{"filter": "datum.k == 'tx' && datum.r == 'SR'"}], "mark": {"type": "text", "font": "DejaVu Serif", "fontSize": 12, "align": "left", "baseline": "alphabetic", "dy": 5, "color": "#000000"},
     "encoding": {"x": {"field": "t", "type": "quantitative"}, "y": {"field": "v", "type": "quantitative"}, "text": {"field": "s"}}},
    {"transform": [{"filter": "datum.k == 'tx' && datum.r == 'B'"}], "mark": {"type": "text", "font": "DejaVu Serif", "fontSize": 16, "fontWeight": "bold", "align": "center", "baseline": "alphabetic", "color": "#000000"},
     "encoding": {"x": {"field": "t", "type": "quantitative"}, "y": {"field": "v", "type": "quantitative"}, "text": {"field": "s"}}}
 ]},
 {"width": 868, "height": 175, "transform": [{"filter": "datum.p == 'd'"}], "layer": [
    {"transform": [{"filter": "datum.k == 'c'"}], "mark": {"type": "area", "color": "#0000ff", "opacity": 0.2, "interpolate": "monotone"},
     "encoding": {"x": {"field": "t", "type": "quantitative", "scale": {"domain": [0, 3], "nice": false, "zero": false}, "axis": {"values": [0, 0.5, 1, 1.5, 2, 2.5, 3], "labelExpr": "'' + datum.value", "title": null, "grid": true}},
                  "y": {"field": "b", "type": "quantitative", "scale": {"domain": [-0.5, 2], "nice": false, "zero": false}, "axis": {"values": [-0.5, 0, 0.5, 1, 1.5, 2], "labels": false, "title": null, "grid": true}},
                  "y2": {"datum": 1.77}}},
    {"transform": [{"filter": "datum.k == 'c'"}], "mark": {"type": "area", "color": "#0000ff", "opacity": 0.2, "interpolate": "monotone"},
     "encoding": {"x": {"field": "t", "type": "quantitative"}, "y": {"field": "a", "type": "quantitative"}, "y2": {"datum": 0}}},
    {"transform": [{"filter": "datum.k == 'box'"}], "mark": {"type": "rect", "filled": false, "stroke": "#77AC30", "strokeWidth": 4, "strokeDash": [16, 9]},
     "encoding": {"x": {"field": "t", "type": "quantitative"}, "x2": {"field": "t2"}, "y": {"field": "v", "type": "quantitative"}, "y2": {"field": "v2"}}},
    {"transform": [{"filter": "datum.k == 'c'"}], "mark": {"type": "line", "color": "#0072BD", "strokeWidth": 2.5, "strokeJoin": "round", "interpolate": "monotone"},
     "encoding": {"x": {"field": "t", "type": "quantitative"}, "y": {"field": "v", "type": "quantitative"}}},
    {"transform": [{"filter": "datum.k == 'vr'"}], "mark": {"type": "rule", "color": "#ff0000", "strokeWidth": 1.5, "strokeDash": [2, 2]}, "encoding": {"x": {"field": "t", "type": "quantitative"}}},
    {"transform": [{"filter": "datum.k == 'vg'"}], "mark": {"type": "rule", "color": "#00ee00", "strokeWidth": 1.5, "strokeDash": [2, 2]}, "encoding": {"x": {"field": "t", "type": "quantitative"}}},
    {"transform": [{"filter": "datum.k == 'ar'"}], "mark": {"type": "rule", "color": "#262626", "strokeWidth": 0.8},
     "encoding": {"x": {"field": "t", "type": "quantitative"}, "x2": {"field": "t2"}, "y": {"field": "v", "type": "quantitative"}}},
    {"transform": [{"filter": "datum.k == 'ar'"}], "mark": {"type": "point", "shape": "M0,0L1,-0.3L1,0.3Z", "size": 400, "filled": true, "color": "#000000", "opacity": 1, "strokeWidth": 0},
     "encoding": {"x": {"field": "t", "type": "quantitative"}, "y": {"field": "v", "type": "quantitative"}}},
    {"transform": [{"filter": "datum.k == 'ar'"}], "mark": {"type": "point", "shape": "M0,0L-1,-0.3L-1,0.3Z", "size": 400, "filled": true, "color": "#000000", "opacity": 1, "strokeWidth": 0},
     "encoding": {"x": {"field": "t2", "type": "quantitative"}, "y": {"field": "v", "type": "quantitative"}}},
    {"transform": [{"filter": "datum.k == 'yl'"}], "mark": {"type": "text", "font": "DejaVu Serif", "fontSize": 13, "align": "right", "baseline": "middle", "dx": -7, "color": "#262626"},
     "encoding": {"x": {"field": "t", "type": "quantitative"}, "y": {"field": "v", "type": "quantitative"}, "text": {"field": "s"}}},
    {"transform": [{"filter": "datum.k == 'tx' && datum.r == 'R'"}], "mark": {"type": "text", "font": "DejaVu Serif", "fontSize": 16, "align": "left", "baseline": "alphabetic", "color": "#000000"},
     "encoding": {"x": {"field": "t", "type": "quantitative"}, "y": {"field": "v", "type": "quantitative"}, "text": {"field": "s"}}},
    {"transform": [{"filter": "datum.k == 'tx' && datum.r == 'E'"}], "mark": {"type": "text", "font": "DejaVu Serif", "fontSize": 14.5, "align": "left", "baseline": "alphabetic", "color": "#000000"},
     "encoding": {"x": {"field": "t", "type": "quantitative"}, "y": {"field": "v", "type": "quantitative"}, "text": {"field": "s"}}},
    {"transform": [{"filter": "datum.k == 'tx' && datum.r == 'RR'"}], "mark": {"type": "text", "font": "DejaVu Serif", "fontSize": 16, "align": "right", "baseline": "alphabetic", "color": "#000000"},
     "encoding": {"x": {"field": "t", "type": "quantitative"}, "y": {"field": "v", "type": "quantitative"}, "text": {"field": "s"}}},
    {"transform": [{"filter": "datum.k == 'tx' && datum.r == 'I'"}], "mark": {"type": "text", "font": "DejaVu Serif", "fontSize": 16, "fontStyle": "italic", "align": "left", "baseline": "alphabetic", "color": "#000000"},
     "encoding": {"x": {"field": "t", "type": "quantitative"}, "y": {"field": "v", "type": "quantitative"}, "text": {"field": "s"}}},
    {"transform": [{"filter": "datum.k == 'tx' && datum.r == 'IR'"}], "mark": {"type": "text", "font": "DejaVu Serif", "fontSize": 16, "fontStyle": "italic", "align": "right", "baseline": "alphabetic", "color": "#000000"},
     "encoding": {"x": {"field": "t", "type": "quantitative"}, "y": {"field": "v", "type": "quantitative"}, "text": {"field": "s"}}},
    {"transform": [{"filter": "datum.k == 'tx' && datum.r == 'IC'"}], "mark": {"type": "text", "font": "DejaVu Serif", "fontSize": 16, "fontStyle": "italic", "align": "center", "baseline": "alphabetic", "color": "#000000"},
     "encoding": {"x": {"field": "t", "type": "quantitative"}, "y": {"field": "v", "type": "quantitative"}, "text": {"field": "s"}}},
    {"transform": [{"filter": "datum.k == 'tx' && datum.r == 'S'"}], "mark": {"type": "text", "font": "DejaVu Serif", "fontSize": 11.5, "fontStyle": "italic", "align": "left", "baseline": "alphabetic", "dy": 3.5, "color": "#000000"},
     "encoding": {"x": {"field": "t", "type": "quantitative"}, "y": {"field": "v", "type": "quantitative"}, "text": {"field": "s"}}},
    {"transform": [{"filter": "datum.k == 'tx' && datum.r == 'SR'"}], "mark": {"type": "text", "font": "DejaVu Serif", "fontSize": 12, "align": "left", "baseline": "alphabetic", "dy": 5, "color": "#000000"},
     "encoding": {"x": {"field": "t", "type": "quantitative"}, "y": {"field": "v", "type": "quantitative"}, "text": {"field": "s"}}},
    {"transform": [{"filter": "datum.k == 'tx' && datum.r == 'B'"}], "mark": {"type": "text", "font": "DejaVu Serif", "fontSize": 16, "fontWeight": "bold", "align": "center", "baseline": "alphabetic", "color": "#000000"},
     "encoding": {"x": {"field": "t", "type": "quantitative"}, "y": {"field": "v", "type": "quantitative"}, "text": {"field": "s"}}}
 ]}
]
}
